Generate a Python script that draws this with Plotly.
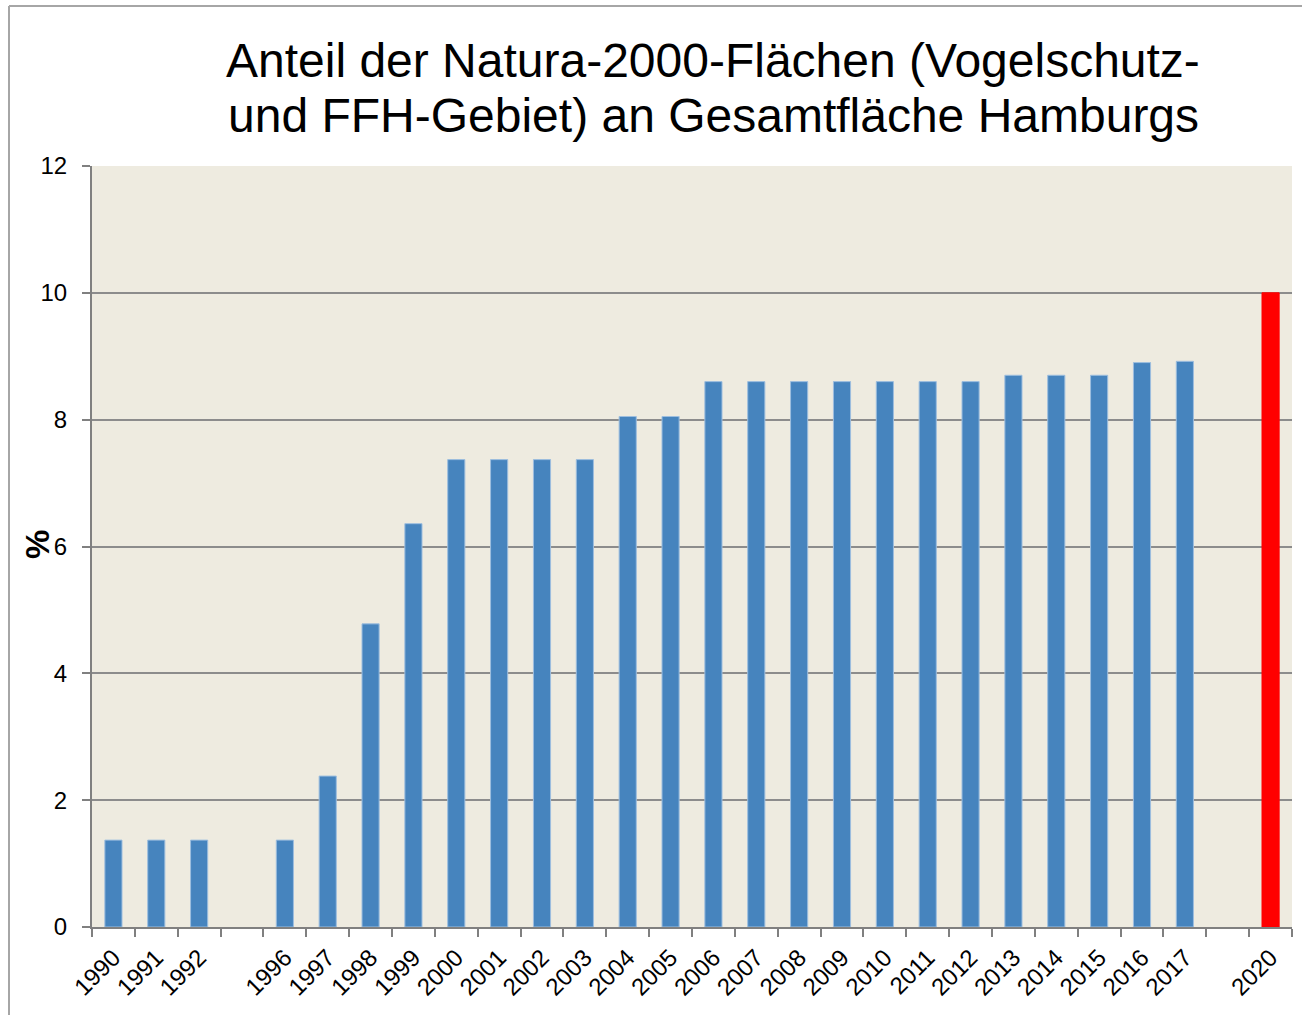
import plotly.graph_objects as go

categories = ["1990", "1991", "1992", " ", "1996", "1997", "1998", "1999", "2000",
              "2001", "2002", "2003", "2004", "2005", "2006", "2007", "2008", "2009",
              "2010", "2011", "2012", "2013", "2014", "2015", "2016", "2017", "  ", "2020"]
values = [1.37, 1.37, 1.37, None, 1.37, 2.38, 4.78, 6.36, 7.37,
          7.37, 7.37, 7.37, 8.05, 8.05, 8.6, 8.6, 8.6, 8.6,
          8.6, 8.6, 8.6, 8.7, 8.7, 8.7, 8.9, 8.92, None, 10.0]
target_year = "2020"
title_lines = ["Anteil der Natura-2000-Flächen (Vogelschutz-",
               "und FFH-Gebiet) an Gesamtfläche Hamburgs"]

colors = ["#FF0000" if c == target_year else "#4684BE" for c in categories]
edge = ["#FF0000" if c == target_year else "#9DBEDF" for c in categories]

fig = go.Figure(go.Bar(
    x=categories, y=values, width=0.4,
    marker=dict(color=colors, line=dict(color=edge, width=1)),
))

W, H = 1302, 1015
L, R, T, B = 92, 10, 166, 88
pw, ph = W - L - R, H - T - B

def px_x(p):
    return (p - L) / pw

def px_y(p):
    return (H - B - p) / ph

annotations = [dict(
    text="<b>%</b>", textangle=-90,
    xref="paper", yref="paper",
    x=px_x(37), y=px_y(545),
    xanchor="center", yanchor="middle",
    showarrow=False, font=dict(size=33, color="black"),
)]
for line, yc in zip(title_lines, [60, 115]):
    annotations.append(dict(
        text=line, xref="paper", yref="paper",
        x=px_x(713), y=px_y(yc), xanchor="center", yanchor="middle",
        showarrow=False, font=dict(size=48, color="black"),
    ))

fig.update_layout(
    width=W, height=H,
    margin=dict(l=L, r=R, t=T, b=B, autoexpand=False),
    paper_bgcolor="white",
    plot_bgcolor="#EEEBE0",
    font=dict(family="Liberation Sans, Arial, sans-serif", color="black"),
    showlegend=False,
    bargap=0.6,
    xaxis=dict(
        type="category",
        categoryorder="array", categoryarray=categories,
        tickson="boundaries",
        ticks="outside", ticklen=8, tickcolor="#808080", tickwidth=2,
        showline=True, linecolor="#808080", linewidth=2,
        showgrid=False,
        tickangle=-45,
        tickfont=dict(size=24, color="black"),
        ticklabelstandoff=5,
        range=[-0.5, len(categories) - 0.5],
    ),
    yaxis=dict(
        range=[0, 12], dtick=2, tick0=0,
        ticks="outside", ticklen=8, tickcolor="#808080", tickwidth=2,
        showline=True, linecolor="#808080", linewidth=2,
        showgrid=True, gridcolor="#8C8C8C", gridwidth=1.5,
        zeroline=False,
        tickfont=dict(size=24, color="black"),
        ticklabelstandoff=10,
    ),
    annotations=annotations,
    shapes=[
        dict(type="line", xref="paper", yref="paper",
             x0=px_x(9), x1=px_x(9), y0=px_y(1100), y1=px_y(6),
             line=dict(color="#A6A6A6", width=2)),
        dict(type="line", xref="paper", yref="paper",
             x0=px_x(9), x1=px_x(1400), y0=px_y(6), y1=px_y(6),
             line=dict(color="#A6A6A6", width=2)),
    ],
)

fig.write_html(
    "out.html",
    config={"displayModeBar": False},
    post_script="document.body.style.margin='0';document.body.style.overflow='hidden';",
)
